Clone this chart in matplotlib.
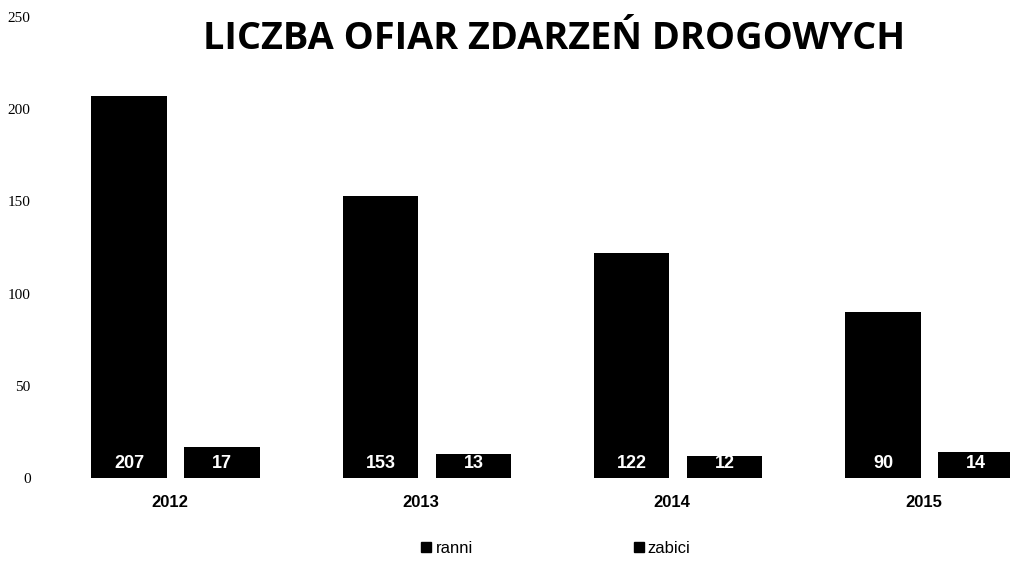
import numpy as np
import matplotlib.pyplot as plt
from matplotlib.lines import Line2D
from matplotlib.transforms import ScaledTranslation

years = ["2012", "2013", "2014", "2015"]
ranni = [207, 153, 122, 90]
zabici = [17, 13, 12, 14]
yticks = [0, 50, 100, 150, 200, 250]

x = np.arange(len(years))
w = 0.3
off = 0.185

fig = plt.figure(figsize=(10.1, 5.61), dpi=100)
ax = fig.add_axes([50 / 1010, 83 / 561, 960 / 1010, 461 / 561])

b1 = ax.bar(x - off, ranni, w, color="black")
b2 = ax.bar(x + off, zabici, w, color="black")

for bars, vals in [(b1, ranni), (b2, zabici)]:
    for rect, v in zip(bars, vals):
        ax.text(rect.get_x() + rect.get_width() / 2, 8, str(v), ha="center", va="center",
                color="white", fontsize=13, fontweight="bold", family="Liberation Sans")

ax.set_xlim(-0.5, 3.32)
ax.set_ylim(0, 250)
ax.set_yticks(yticks)
ax.set_yticklabels([str(t) for t in yticks], family="Liberation Serif", fontsize=11)
ax.set_xticks(x)
ax.set_xticklabels(years, family="Liberation Sans", fontsize=12, fontweight="bold")
ax.tick_params(axis="both", length=0)
ax.tick_params(axis="y", pad=14)
ax.tick_params(axis="x", pad=12)
shift = ScaledTranslation(-6 / 100, 0, fig.dpi_scale_trans)
for lab in ax.get_xticklabels():
    lab.set_transform(lab.get_transform() + shift)
for s in ax.spines.values():
    s.set_visible(False)

fig.text(0.549, 0.93, "LICZBA OFIAR ZDARZEŃ DROGOWYCH", ha="center", va="center",
         fontsize=27.3, fontweight="bold", family="Open Sans")

handles = [Line2D([], [], marker="s", color="black", linestyle="none", markersize=7)
           for _ in range(2)]
fig.legend(handles, ["ranni", "zabici"], loc="center", bbox_to_anchor=(0.55, 0.022),
           ncol=2, frameon=False, handlelength=0.7, handletextpad=0.2, columnspacing=9.6,
           prop={"family": "Liberation Sans", "size": 12})

fig.savefig("out.png", dpi=100)
